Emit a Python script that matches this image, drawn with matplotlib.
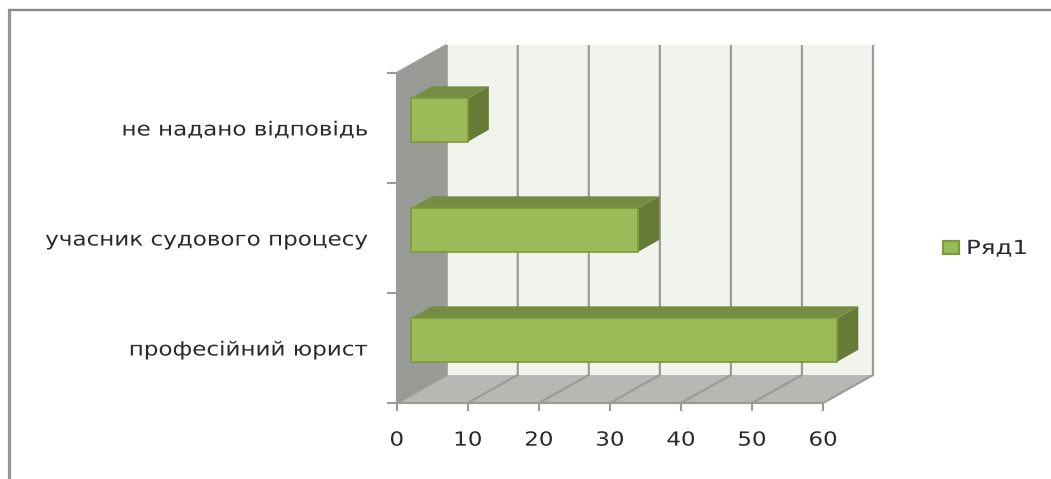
import matplotlib
matplotlib.use("Agg")
import matplotlib.pyplot as plt
from matplotlib.patches import Polygon, Rectangle
from matplotlib.lines import Line2D
from matplotlib.patheffects import AbstractPathEffect
from matplotlib.transforms import Affine2D

categories = ["професійний юрист", "учасник судового процесу", "не надано відповідь"]
values = [60, 32, 8]
x_ticks = [0, 10, 20, 30, 40, 50, 60]
series_name = "Ряд1"

W, H = 1051, 479
fig = plt.figure(figsize=(W / 100, H / 100), dpi=100, facecolor="white")


class StretchX(AbstractPathEffect):
    """Widen real text around a pixel anchor: the reference image is stretched sideways."""

    def __init__(self, factor, anchor=None):
        super().__init__()
        self.factor = factor
        self.anchor = anchor

    def draw_path(self, renderer, gc, tpath, affine, rgbFace=None):
        a = self.anchor if self.anchor is not None else affine.get_matrix()[0, 2]
        t = affine + Affine2D().translate(-a, 0).scale(self.factor, 1).translate(a, 0)
        renderer.draw_path(gc, tpath, t, rgbFace)


# frame
fa = fig.add_axes([0, 0, 1, 1], zorder=0)
fa.set_xlim(0, W); fa.set_ylim(H, 0); fa.axis("off")
fa.plot([9, 9], [479, 9], color="#969696", lw=2.3, solid_capstyle="butt")
fa.plot([7.5, 1051], [10.2, 10.2], color="#8a8a8a", lw=1.7, solid_capstyle="butt")

L, R, T, B = 396.7, 823.0, 73.0, 403.0
ax = fig.add_axes([L / W, 1 - B / H, (R - L) / W, (B - T) / H], zorder=1)
ax.set_xlim(0, 60)
ax.set_ylim(0, 3)
ax.patch.set_alpha(0)
for s in ax.spines.values():
    s.set_visible(False)

ux = (R - L) / 60
uy = (B - T) / 3
DX, DY = 50 / ux, 28 / uy          # wall depth
BX0 = 14.3 / ux
bdx, bdy = 21 / ux, 12 / uy        # bar depth
XMAX = 60
GRID = "#9a9c98"


def poly(pts, fc, ec="none", lw=0, z=1):
    ax.add_patch(Polygon(pts, closed=True, facecolor=fc, edgecolor=ec, linewidth=lw, zorder=z, clip_on=False))


def line(xs, ys, c=GRID, lw=1.6, z=2):
    ax.add_line(Line2D(xs, ys, color=c, lw=lw, zorder=z, clip_on=False, solid_capstyle="butt"))


# back wall, side wall, floor
poly([(DX, DY), (XMAX + DX, DY), (XMAX + DX, 3 + DY), (DX, 3 + DY)], "#f1f4ec")
poly([(0, 0), (DX, DY), (DX, 3 + DY), (0, 3)], "#989a96")
poly([(0, 0), (XMAX, 0), (XMAX + DX, DY), (DX, DY)], "#b6b8b3")

# gridlines
for t in x_ticks:
    line([t, t + DX, t + DX], [0, DY, 3 + DY])
line([0, DX], [3, 3 + DY])
line([0, 0], [0, 3])
line([0, XMAX], [0, 0])

# bars
FRONT, TOP, SIDE, EDGE = "#9bbb59", "#768c42", "#667c36", "#7b9a3d"
for i, v in enumerate(values):
    x0, x1 = BX0, v + BX0
    y0, y1 = i + 0.375, i + 0.77
    poly([(x0, y1), (x1, y1), (x1 + bdx, y1 + bdy), (x0 + bdx, y1 + bdy)], TOP, z=3)
    poly([(x1, y0), (x1 + bdx, y0 + bdy), (x1 + bdx, y1 + bdy), (x1, y1)], SIDE, z=3)
    poly([(x0, y0), (x1, y0), (x1, y1), (x0, y1)], FRONT, ec=EDGE, lw=1.2, z=4)

# axes ticks and labels
TXT = "#2a2a2a"
FS = 14
ax.set_xticks(x_ticks)
ax.set_xticklabels([str(t) for t in x_ticks])
ax.set_yticks([0, 1, 2, 3])
ax.set_yticklabels([])
ax.set_yticks([0.5, 1.5, 2.5], minor=True)
ax.set_yticklabels(categories, minor=True)
ax.tick_params(axis="x", length=5.4, width=1.5, color=GRID, labelsize=FS, labelcolor=TXT, pad=14.5)
ax.tick_params(axis="y", which="major", length=7, width=1.5, color=GRID)
ax.tick_params(axis="y", which="minor", length=0, labelsize=FS, labelcolor=TXT, pad=20)

fig.canvas.draw()
for lab, t in zip(ax.get_xticklabels(), x_ticks):
    lab.set_path_effects([StretchX(1.18, ax.transData.transform((t, 0))[0])])
for lab in ax.get_yticklabels(minor=True):
    lab.set_path_effects([StretchX(1.185, 368.5)])

# legend
fa.add_patch(Rectangle((942.5, 240.7), 16, 13.5, facecolor=FRONT, edgecolor=EDGE, linewidth=1.6))
leg = fa.text(966, 248.5, series_name, fontsize=FS, color=TXT, va="center", ha="left")
leg.set_path_effects([StretchX(1.26, 966)])

fig.savefig("out.png", dpi=100)
